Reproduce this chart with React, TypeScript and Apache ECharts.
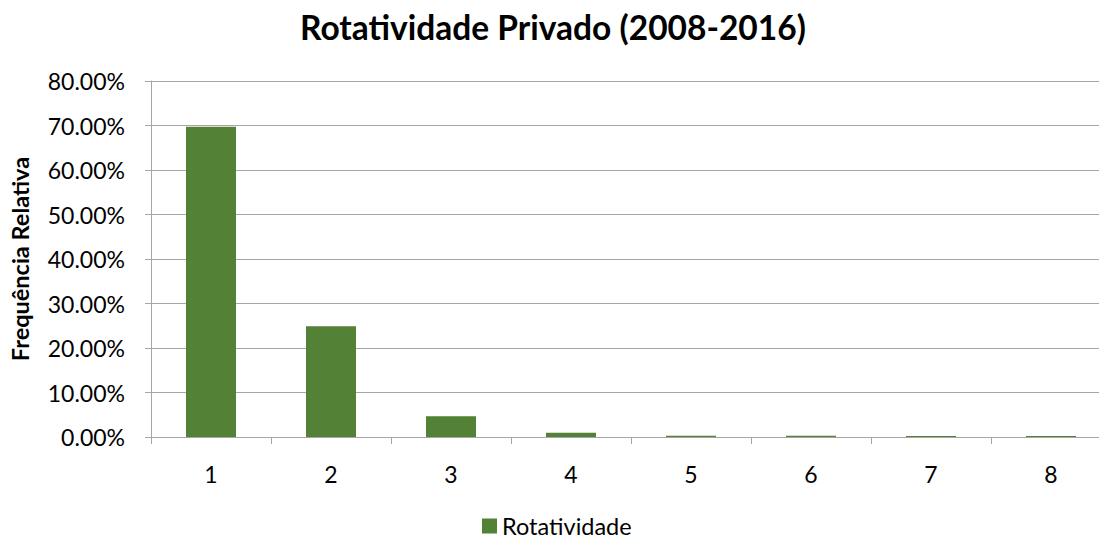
import React, { useEffect, useRef } from "react";
import * as echarts from "echarts";

const categories = ["1", "2", "3", "4", "5", "6", "7", "8"];
const rotatividade = [69.7, 24.9, 4.65, 0.95, 0.3, 0.3, 0.25, 0.25];
const yTicks = { min: 0, max: 80, interval: 10 };
const titleText = "Rotatividade Privado (2008-2016)";
const yAxisName = "Frequência Relativa";
const seriesName = "Rotatividade";

const FONT = "Lato, 'Open Sans', sans-serif";

export default function App() {
  const ref = useRef<HTMLDivElement>(null);
  useEffect(() => {
    if (!ref.current) return;
    const chart = echarts.init(ref.current, null, { renderer: "svg" });
    chart.setOption({
      animation: false,
      backgroundColor: "#ffffff",
      textStyle: { fontFamily: FONT, color: "#000" },
      title: {
        text: titleText,
        left: 300,
        top: 10,
        padding: 0,
        textStyle: { fontFamily: FONT, fontSize: 33.5, fontWeight: "bold", color: "#000" },
      },
      legend: {
        data: [seriesName],
        left: 482,
        top: 514,
        padding: 0,
        itemWidth: 15,
        itemHeight: 15,
        itemGap: 6,
        icon: "rect",
        textStyle: { fontFamily: FONT, fontSize: 23.5, color: "#000" },
      },
      grid: { left: 151, right: 9, top: 81, bottom: 103, containLabel: false },
      xAxis: {
        type: "category",
        data: categories,
        boundaryGap: true,
        axisLine: { show: true, lineStyle: { color: "#a6a6a6", width: 1 } },
        axisTick: { show: true, length: 7, lineStyle: { color: "#a6a6a6" } },
        axisLabel: { fontFamily: FONT, fontSize: 23, color: "#000", margin: 25 },
        splitLine: { show: false },
      },
      yAxis: {
        type: "value",
        min: yTicks.min,
        max: yTicks.max,
        interval: yTicks.interval,
        name: yAxisName,
        nameLocation: "middle",
        nameGap: 119,
        nameRotate: 90,
        nameTextStyle: { fontFamily: FONT, fontSize: 23.5, fontWeight: "bold", color: "#000" },
        axisLine: { show: true, lineStyle: { color: "#a6a6a6", width: 1 } },
        axisTick: { show: true, length: 6, lineStyle: { color: "#a6a6a6" } },
        axisLabel: {
          fontFamily: FONT,
          fontSize: 23,
          color: "#000",
          margin: 26,
          formatter: (v: number) => v.toFixed(2) + "%",
        },
        splitLine: { show: true, lineStyle: { color: "#a6a6a6", width: 1 } },
      },
      series: [
        {
          name: seriesName,
          type: "bar",
          data: rotatividade,
          barWidth: 50,
          itemStyle: { color: "#538135" },
        },
      ],
    });
    return () => chart.dispose();
  }, []);
  return (
    <div
      style={{
        position: "fixed",
        left: 0,
        top: 0,
        width: 1099,
        height: 540,
        overflow: "hidden",
        background: "#fff",
      }}
    >
      <div ref={ref} style={{ width: 1120, height: 540 }} />
    </div>
  );
}
